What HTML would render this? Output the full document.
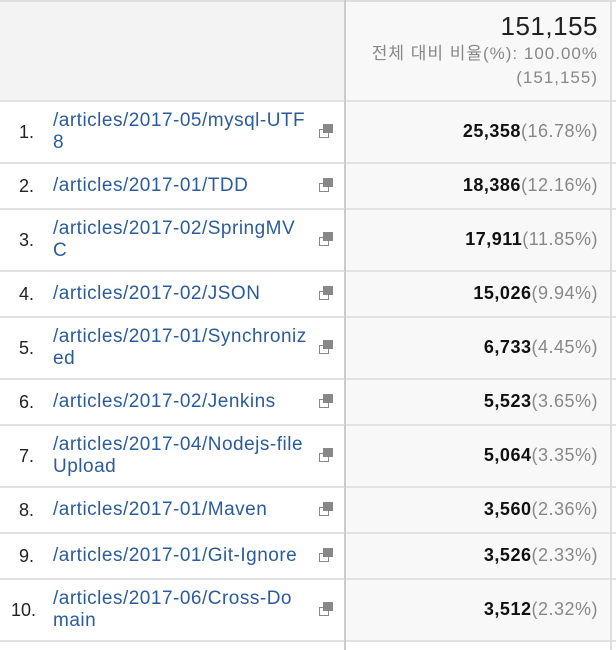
<!DOCTYPE html>
<html><head><meta charset="utf-8"><style>
body{margin:0;width:616px;height:650px;background:#fff;font-family:"Liberation Sans","Noto Sans CJK KR",sans-serif;position:relative;overflow:hidden}
.abs{position:absolute}
.hl{background:#f3f3f3}
.rc{background:#f8f8f8}
.link{color:#2a5c9c;font-size:19px;line-height:22px;letter-spacing:0.5px;white-space:nowrap}
.rank{font-size:18px;color:#222}
.val{font-size:18px;font-weight:bold;color:#111;text-align:right;right:18px;letter-spacing:0.5px}
.val span{font-weight:normal;color:#888}
.icon{width:8px;height:7px;border:1.5px solid #888;background:#fff}
.icon2{width:8px;height:7px;border:1.5px solid #888;background:#888}
</style></head><body>
<div class="abs hl" style="left:0;top:2px;width:344px;height:98px"></div>
<div class="abs rc" style="left:346px;top:2px;width:264px;height:98px"></div>
<div class="abs" style="left:0;top:0;width:616px;height:2px;background:#ddd"></div>
<div class="abs" style="right:18px;top:11px;font-size:26px;color:#222;letter-spacing:0.5px">151,155</div>
<div class="abs" style="right:18px;top:42px;font-size:17px;color:#888;text-align:right;line-height:24px;letter-spacing:1px">전체 대비 비율(%): 100.00%<br>(151,155)</div>
<div id="rows"></div>
<div class="abs" style="left:344px;top:0;width:2px;height:650px;background:#ccc"></div>
<div class="abs" style="left:610px;top:0;width:2px;height:650px;background:#ddd"></div>
<script>
const pages=["/articles/2017-05/mysql-UTF8","/articles/2017-01/TDD","/articles/2017-02/SpringMVC","/articles/2017-02/JSON","/articles/2017-01/Synchronized","/articles/2017-02/Jenkins","/articles/2017-04/Nodejs-fileUpload","/articles/2017-01/Maven","/articles/2017-01/Git-Ignore","/articles/2017-06/Cross-Domain"];
const wrapAt=[27,0,26,0,28,0,29,0,0,26];
const views=[25358,18386,17911,15026,6733,5523,5064,3560,3526,3512];
const total=151155;
const c=document.getElementById('rows');
let y=100;
pages.forEach((p,i)=>{
  const two=wrapAt[i]>0;const h=two?62:46;
  const sep=document.createElement('div');sep.className='abs';
  
  
  sep.style.cssText=`left:0;top:${y}px;width:616px;height:2px;background:#e2e2e2`;c.appendChild(sep);
  const bg=document.createElement('div');bg.className='abs rc';
  
  
  bg.style.cssText=`left:346px;top:${y+2}px;width:264px;height:${h-2}px`;c.appendChild(bg);
  const mid=y+1+h/2;
  const r=document.createElement('div');r.className='abs rank';r.textContent=(i+1)+'.';
  
  
  r.style.cssText=`left:${i==9?11:19}px;top:${mid-10}px`;c.appendChild(r);
  const l=document.createElement('div');l.className='abs link';
  
  
  if(two){l.innerHTML=p.slice(0,wrapAt[i])+'<br>'+p.slice(wrapAt[i]);}else l.textContent=p;
  l.style.top=(mid-(two?22:11))+'px';l.style.left='53px';c.appendChild(l);
  const ib=document.createElement('div');ib.className='abs icon';
  
  
  ib.style.cssText+=`left:319px;top:${mid-3}px`;c.appendChild(ib);
  const it=document.createElement('div');it.className='abs icon2';
  
  
  it.style.cssText+=`left:323px;top:${mid-8}px`;c.appendChild(it);
  const v=document.createElement('div');v.className='abs val';
  
  
  v.innerHTML=views[i].toLocaleString('en-US')+'<span>('+(views[i]/total*100).toFixed(2)+'%)</span>';
  v.style.top=(mid-11)+'px';c.appendChild(v);
  y+=h;
});
const sep=document.createElement('div');sep.className='abs';


sep.style.cssText=`left:0;top:${y}px;width:616px;height:2px;background:#e2e2e2`;c.appendChild(sep);
</script>
</body></html>
